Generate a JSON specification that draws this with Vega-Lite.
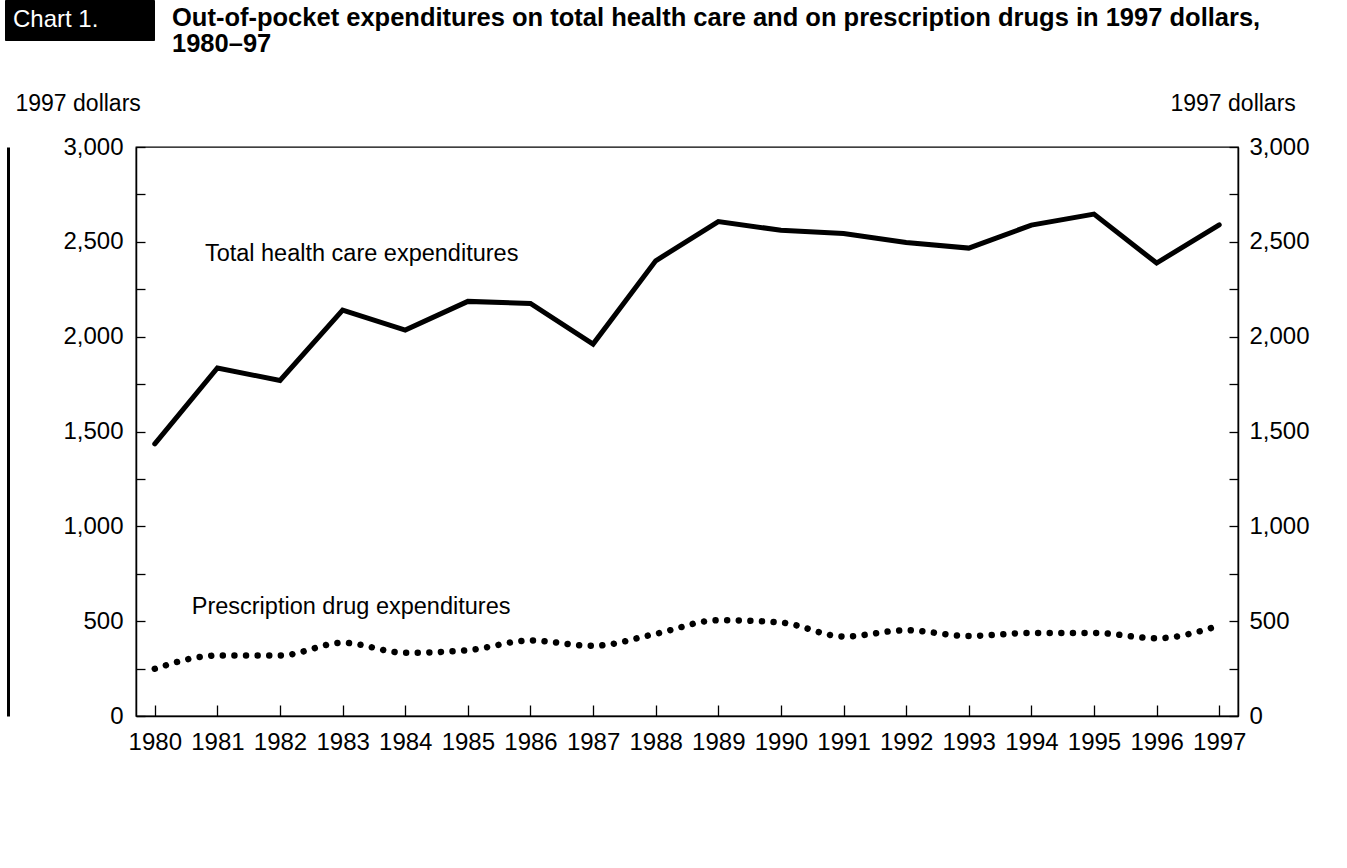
{
  "$schema": "https://vega.github.io/schema/vega-lite/v6.json",
  "width": 1102,
  "height": 569,
  "autosize": {"type": "none"},
  "padding": {"left": 136, "top": 147, "right": 109, "bottom": 152},
  "background": "white",
  "title": {
    "text": ["Out-of-pocket expenditures on total health care and on prescription drugs in 1997 dollars,", "1980–97"],
    "anchor": "start",
    "frame": "group",
    "font": "Liberation Sans",
    "fontSize": 25.5,
    "fontWeight": "bold",
    "color": "black",
    "lineHeight": 26,
    "dx": 36,
    "dy": 58,
    "offset": 0
  },
  "config": {
    "font": "Liberation Sans",
    "view": {"stroke": "black", "strokeWidth": 1.3},
    "axis": {
      "labelFont": "Liberation Sans",
      "labelFontSize": 24,
      "labelColor": "black",
      "titleFont": "Liberation Sans",
      "titleFontSize": 23,
      "titleFontWeight": "normal",
      "titleColor": "black",
      "domainColor": "black",
      "domainWidth": 1.5,
      "tickColor": "black",
      "tickWidth": 1.3,
      "grid": false
    }
  },
  "datasets": {
    "series": [
      {"year": 1980, "total": 1435, "rx": 249},
      {"year": 1981, "total": 1835, "rx": 319},
      {"year": 1982, "total": 1769, "rx": 319},
      {"year": 1983, "total": 2140, "rx": 386},
      {"year": 1984, "total": 2035, "rx": 333},
      {"year": 1985, "total": 2186, "rx": 347},
      {"year": 1986, "total": 2175, "rx": 398},
      {"year": 1987, "total": 1961, "rx": 370},
      {"year": 1988, "total": 2400, "rx": 433},
      {"year": 1989, "total": 2607, "rx": 505},
      {"year": 1990, "total": 2561, "rx": 493},
      {"year": 1991, "total": 2544, "rx": 419},
      {"year": 1992, "total": 2496, "rx": 452},
      {"year": 1993, "total": 2467, "rx": 422},
      {"year": 1994, "total": 2588, "rx": 438},
      {"year": 1995, "total": 2646, "rx": 438},
      {"year": 1996, "total": 2388, "rx": 410},
      {"year": 1997, "total": 2590, "rx": 477}
    ],
    "labels": [
      {"year": 1980.8, "value": 2435, "label": "Total health care expenditures"},
      {"year": 1980.59, "value": 574, "label": "Prescription drug expenditures"}
    ]
  },
  "layer": [
    {
      "data": {"name": "series"},
      "mark": {"type": "line", "color": "black", "strokeWidth": 5, "strokeJoin": "miter", "strokeCap": "round"},
      "encoding": {
        "x": {
          "field": "year", "type": "quantitative",
          "scale": {"domain": [1979.7, 1997.3], "nice": false, "zero": false},
          "axis": {
            "values": [1980,1981,1982,1983,1984,1985,1986,1987,1988,1989,1990,1991,1992,1993,1994,1995,1996,1997],
            "format": "d", "title": null, "tickSize": -11, "labelPadding": 25, "labelFlush": false, "labelOverlap": false
          }
        },
        "y": {
          "field": "total", "type": "quantitative",
          "scale": {"domain": [0, 3000], "nice": false},
          "axis": {
            "orient": "left",
            "values": [0,250,500,750,1000,1250,1500,1750,2000,2250,2500,2750,3000],
            "labelExpr": "datum.value % 500 == 0 ? format(datum.value, ',') : ''",
            "tickSize": -9, "labelPadding": 22,
            "title": "1997 dollars", "titleAngle": 0, "titleAlign": "left", "titleBaseline": "middle",
            "titleX": -121, "titleY": -44
          }
        },
        "color": {
          "datum": "chart",
          "scale": {"range": ["black"]},
          "legend": {
            "title": "Chart 1.",
            "orient": "none", "legendX": -131, "legendY": -147,
            "fillColor": "black", "strokeColor": "black", "padding": 8,
            "titleColor": "white", "titleFont": "Liberation Sans", "titleFontSize": 24, "titleFontWeight": "normal",
            "titleOrient": "left", "titlePadding": 42, "titleBaseline": "top", "titleLineHeight": 24,
            "symbolOpacity": 0, "symbolSize": 1, "symbolStrokeWidth": 0,
            "labelExpr": "''", "labelFontSize": 1, "labelOpacity": 0
          }
        }
      }
    },
    {
      "data": {"name": "series"},
      "mark": {"type": "line", "color": "black", "strokeWidth": 6.5, "strokeCap": "round", "strokeDash": [0.01, 11.6], "interpolate": "monotone"},
      "encoding": {
        "x": {"field": "year", "type": "quantitative"},
        "y": {
          "field": "rx", "type": "quantitative",
          "scale": {"domain": [0, 3000], "nice": false},
          "axis": {
            "orient": "right",
            "values": [0,250,500,750,1000,1250,1500,1750,2000,2250,2500,2750,3000],
            "labelExpr": "datum.value % 500 == 0 ? format(datum.value, ',') : ''",
            "tickSize": -9, "labelPadding": 20,
            "title": "1997 dollars", "titleAngle": 0, "titleAlign": "left", "titleBaseline": "middle",
            "titleX": -68, "titleY": -44
          }
        }
      }
    },
    {
      "data": {"name": "labels"},
      "mark": {"type": "text", "align": "left", "baseline": "middle", "fontSize": 23.5, "font": "Liberation Sans", "color": "black"},
      "encoding": {
        "x": {"field": "year", "type": "quantitative"},
        "y": {
          "field": "value", "type": "quantitative",
          "scale": {"domain": [0, 3000], "nice": false},
          "axis": {"orient": "left", "offset": 128, "labels": false, "ticks": false, "title": null, "domainWidth": 3, "domainColor": "black"}
        },
        "text": {"field": "label"}
      }
    }
  ],
  "resolve": {"scale": {"y": "independent"}}
}
